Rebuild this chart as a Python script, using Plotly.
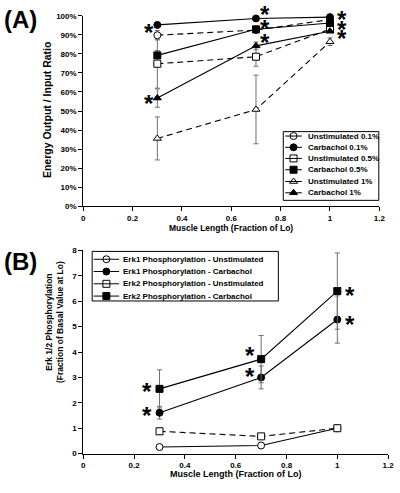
import plotly.graph_objects as go

# ---------------- Data ----------------
x_len = [0.3, 0.7, 1.0]

# Panel A: energy output/input ratio (fraction)
a_names = ["Unstimulated 0.1%", "Carbachol 0.1%", "Unstimulated 0.5%",
           "Carbachol 0.5%", "Unstimulated 1%", "Carbachol 1%"]
a_unstim_01 = [0.898, 0.925, 0.980]
a_carb_01 = [0.952, 0.986, 0.993]
a_unstim_05 = [0.748, 0.785, 0.930]
a_carb_05 = [0.792, 0.929, 0.962]
a_unstim_1 = [0.356, 0.508, 0.864]
a_carb_1 = [0.568, 0.842, 0.919]

a_err_unstim_01 = [0.025, 0.0, 0.0]
a_err_carb_01 = [0.0, 0.0, 0.0]
a_err_unstim_05 = [0.128, 0.05, 0.0]
a_err_carb_05 = [0.026, 0.0, 0.0]
a_err_unstim_1 = [0.113, 0.18, 0.02]
a_err_carb_1 = [0.048, 0.02, 0.0]

# Panel B: Erk phosphorylation (fraction of basal at Lo)
b_names = ["Erk1 Phosphorylation - Unstimulated", "Erk1 Phosphorylation - Carbachol",
           "Erk2 Phosphorylation - Unstimulated", "Erk2 Phosphorylation - Carbachol"]
b_erk1_unstim = [0.26, 0.32, 1.0]
b_erk1_carb = [1.61, 3.0, 5.28]
b_erk2_unstim = [0.88, 0.68, 1.0]
b_erk2_carb = [2.55, 3.72, 6.40]

b_err_erk1_unstim = [0.05, 0.05, 0.0]
b_err_erk1_carb = [0.25, 0.45, 0.93]
b_err_erk2_unstim = [0.12, 0.1, 0.0]
b_err_erk2_carb = [0.75, 0.93, 1.5]

# Significance asterisks (x, y)
a_star_x = [0.266, 0.736, 0.736, 0.736, 0.266, 1.048, 1.048, 1.048]
a_star_y = [0.945, 1.036, 0.967, 0.89, 0.571, 1.01, 0.962, 0.91]
b_star_x = [0.252, 0.252, 0.657, 0.657, 1.049, 1.049]
b_star_y = [2.70, 1.75, 4.09, 3.26, 6.45, 5.32]

x_ticks = [0, 0.2, 0.4, 0.6, 0.8, 1.0, 1.2]

# ---------------- Figure ----------------
FONT = "Liberation Sans, Arial, sans-serif"
W, H = 400, 493
fig = go.Figure()

# panel geometry (paper fractions)
A_XDOM = [83 / W, 385 / W]
A_YDOM = [1 - 206 / H, 1 - 12 / H]
B_XDOM = [83 / W, 394 / W]
B_YDOM = [1 - 458 / H, 1 - 251 / H]
X_RANGE = [0, 1.2]
A_YRANGE = [0, 1.0]
B_YRANGE = [0, 8]


def style(sym):
    filled = not sym.endswith("open")
    return dict(symbol=sym.replace("-open", ""), size=7,
                color="black" if filled else "white",
                line=dict(color="black", width=1))


a_series = [a_unstim_01, a_carb_01, a_unstim_05, a_carb_05, a_unstim_1, a_carb_1]
a_errs = [a_err_unstim_01, a_err_carb_01, a_err_unstim_05, a_err_carb_05, a_err_unstim_1, a_err_carb_1]
a_symbols = ["circle-open", "circle", "square-open", "square", "triangle-up-open", "triangle-up"]
a_dash = ["dash", "solid", "dash", "solid", "dash", "solid"]

for name, ys, es, sym, dash in zip(a_names, a_series, a_errs, a_symbols, a_dash):
    fig.add_trace(go.Scatter(
        x=x_len, y=ys, name=name, mode="lines+markers", showlegend=False,
        line=dict(color="black", width=1.1, dash="solid" if dash == "solid" else "6px,4px"),
        marker=style(sym),
        error_y=dict(type="data", array=es, color="#707070", thickness=1, width=2.5),
        xaxis="x", yaxis="y", cliponaxis=False))

b_series = [b_erk1_unstim, b_erk1_carb, b_erk2_unstim, b_erk2_carb]
b_errs = [b_err_erk1_unstim, b_err_erk1_carb, b_err_erk2_unstim, b_err_erk2_carb]
b_symbols = ["circle-open", "circle", "square-open", "square"]
b_dash = ["solid", "solid", "dash", "solid"]
for name, ys, es, sym, dash in zip(b_names, b_series, b_errs, b_symbols, b_dash):
    fig.add_trace(go.Scatter(
        x=x_len, y=ys, name=name, mode="lines+markers", showlegend=False,
        line=dict(color="black", width=1.1, dash="solid" if dash == "solid" else "6px,4px"),
        marker=style(sym),
        error_y=dict(type="data", array=es, color="#707070", thickness=1, width=2.5),
        xaxis="x2", yaxis="y2", cliponaxis=False))

# ---- Compact custom legends (pixel overlay axis) ----
shapes = []
annotations = []
legend_font = dict(family=FONT, size=8, color="black", weight="bold")


def add_legend(names, symbols, box, rows_y, line_x0, line_x1, text_x):
    x0, y0, x1, y1 = box
    shapes.append(dict(type="rect", xref="paper", yref="paper", layer="below",
                       x0=x0 / W, x1=x1 / W, y0=1 - y1 / H, y1=1 - y0 / H,
                       line=dict(color="black", width=1), fillcolor="white"))
    for name, sym, ry in zip(names, symbols, rows_y):
        shapes.append(dict(type="line", xref="paper", yref="paper",
                           x0=line_x0 / W, x1=line_x1 / W, y0=1 - ry / H, y1=1 - ry / H,
                           line=dict(color="black", width=1)))
        fig.add_trace(go.Scatter(x=[(line_x0 + line_x1) / 2], y=[ry], mode="markers",
                                 marker=style(sym), showlegend=False, hoverinfo="skip",
                                 xaxis="x3", yaxis="y3", cliponaxis=False))
        annotations.append(dict(x=text_x / W, y=1 - ry / H, xref="paper", yref="paper",
                                xanchor="left", yanchor="middle", text=name,
                                showarrow=False, font=legend_font))


add_legend(a_names, a_symbols, (287, 130, 384.5, 200),
           [134.5, 146, 157.3, 168.8, 180.8, 192.3], 289, 306, 310)
add_legend(b_names, b_symbols, (92, 252, 282, 302.5),
           [260, 272.5, 285, 297.5], 93.5, 119.5, 121)

axis_common = dict(showline=True, linecolor="black", linewidth=1.2, ticks="outside",
                   ticklen=4, tickcolor="black", showgrid=False, zeroline=False,
                   tickfont=dict(family=FONT, size=8, color="black", weight="bold"))


def to_paper(v, rng, dom):
    return dom[0] + (v - rng[0]) / (rng[1] - rng[0]) * (dom[1] - dom[0])


# asterisks placed in paper space (some sit above the axis top, where data-referenced
# annotations would be hidden)
for xs, ys, xdom, ydom, yrng in [(a_star_x, a_star_y, A_XDOM, A_YDOM, A_YRANGE),
                                 (b_star_x, b_star_y, B_XDOM, B_YDOM, B_YRANGE)]:
    for sx, sy in zip(xs, ys):
        annotations.append(dict(x=to_paper(sx, X_RANGE, xdom), y=to_paper(sy, yrng, ydom),
                                xref="paper", yref="paper", text="*", showarrow=False,
                                xanchor="center", yanchor="middle", yshift=-6,
                                font=dict(family=FONT, size=24, color="black", weight="bold")))

title_font = dict(family=FONT, size=8.5, color="black", weight="bold")
annotations += [
    dict(x=0.0, y=1.0, xref="paper", yref="paper", xanchor="left", yanchor="top",
         text="(A)", showarrow=False, font=dict(family=FONT, size=24, color="black", weight="bold")),
    dict(x=0.0, y=1 - 246 / H, xref="paper", yref="paper", xanchor="left", yanchor="top",
         text="(B)", showarrow=False, font=dict(family=FONT, size=24, color="black", weight="bold")),
    dict(x=(83 + 385) / 2 / W, y=1 - 228 / H, xref="paper", yref="paper",
         xanchor="center", yanchor="middle",
         text="Muscle Length (Fraction of Lo)", showarrow=False, font=title_font),
    dict(x=(83 + 394) / 2 / W, y=1 - 479 / H, xref="paper", yref="paper",
         xanchor="center", yanchor="middle",
         text="Muscle Length (Fraction of Lo)", showarrow=False,
         font=dict(family=FONT, size=9, color="black", weight="bold")),
    dict(x=46 / W, y=1 - 108 / H, xref="paper", yref="paper", textangle=-90,
         xanchor="center", yanchor="middle",
         text="Energy Output / Input Ratio", showarrow=False,
         font=dict(family=FONT, size=10.5, color="black", weight="bold")),
    dict(x=53 / W, y=1 - 324 / H, xref="paper", yref="paper", textangle=-90,
         xanchor="center", yanchor="middle",
         text="Erk 1/2 Phosphorylation<br>(Fraction of Basal Value at Lo)", showarrow=False,
         font=dict(family=FONT, size=8.5, color="black", weight="bold")),
]

fig.update_layout(
    width=W, height=H, margin=dict(l=0, r=0, t=0, b=0),
    paper_bgcolor="white", plot_bgcolor="rgba(0,0,0,0)",
    font=dict(family=FONT, color="black"),
    showlegend=False, hovermode=False,
    xaxis=dict(domain=A_XDOM, range=X_RANGE, tickvals=x_ticks, anchor="y", **axis_common),
    yaxis=dict(domain=A_YDOM, range=A_YRANGE, dtick=0.1, tickformat=".0%", anchor="x",
               **axis_common),
    xaxis2=dict(domain=B_XDOM, range=X_RANGE, tickvals=x_ticks, anchor="y2", **axis_common),
    yaxis2=dict(domain=B_YDOM, range=B_YRANGE, dtick=1, anchor="x2", **axis_common),
    xaxis3=dict(domain=[0, 1], range=[0, W], visible=False, anchor="y3", fixedrange=True),
    yaxis3=dict(domain=[0, 1], range=[H, 0], visible=False, anchor="x3", fixedrange=True),
    shapes=shapes,
    annotations=annotations,
)

fig.write_html("out.html", config={"displayModeBar": False},
               post_script="document.body.style.margin='0';")
